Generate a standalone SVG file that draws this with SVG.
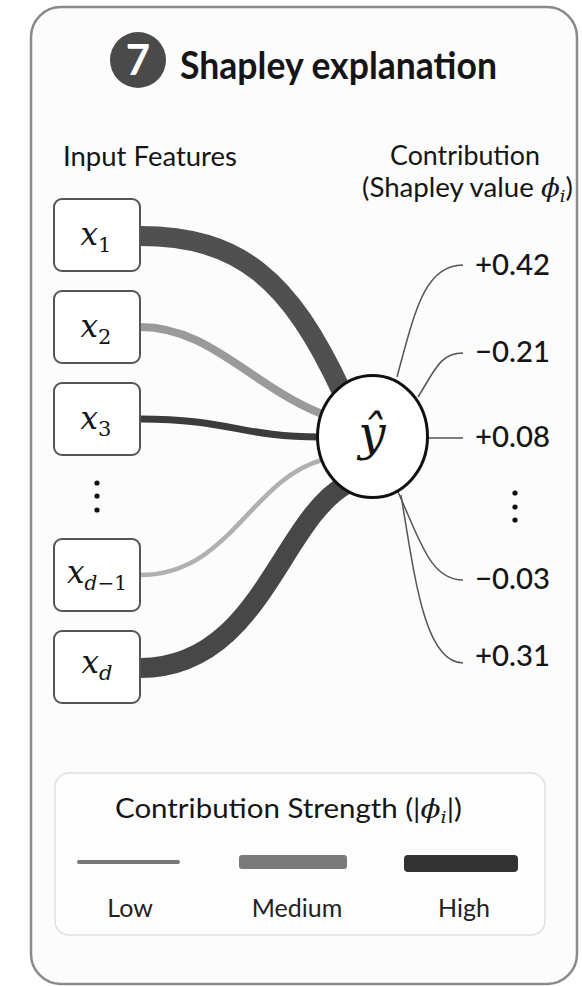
<svg xmlns="http://www.w3.org/2000/svg" width="582" height="987" viewBox="0 0 582 987">
<style>
.sans{font-family:Lato,"Noto Sans","Liberation Sans",sans-serif;fill:#151515}
.math{font-family:"DejaVu Serif","Liberation Serif",serif;font-style:italic;fill:#151515}
.box{fill:#fff;stroke:#555;stroke-width:2}
.out{fill:none;stroke:#555;stroke-width:1.5}
.in{fill:none}
.val{font-size:29px;font-weight:500}
.lbl{font-size:25px;text-anchor:middle;fill:#222}
</style>
<rect x="0" y="0" width="582" height="987" fill="#fff"/>
<rect id="card" x="31" y="7" width="546" height="977" rx="30" fill="#fcfcfc" stroke="#8a8a8a" stroke-width="2.5"/>

<g id="title">
  <circle cx="138" cy="60" r="28" fill="#4a4a4a"/>
  <text x="138" y="75" class="sans" font-size="42" font-weight="700" text-anchor="middle" style="fill:#fff">7</text>
  <text x="180" y="79" class="sans" font-size="38" font-weight="700" textLength="317" lengthAdjust="spacingAndGlyphs">Shapley explanation</text>
</g>

<g id="headers">
  <text x="63" y="166" class="sans" font-size="27" textLength="174" lengthAdjust="spacingAndGlyphs">Input Features</text>
  <text x="465" y="165" class="sans" font-size="26" text-anchor="middle" textLength="150" lengthAdjust="spacingAndGlyphs">Contribution</text>
  <text x="362" y="197" class="sans" font-size="26" textLength="211" lengthAdjust="spacingAndGlyphs">(Shapley value <tspan class="math">ϕ</tspan><tspan class="math" font-size="17" dy="5">i</tspan><tspan dy="-5">)</tspan></text>
</g>

<g id="connectors">
  <path class="in" d="M140,236 C240,236 290,280 342,392" stroke="#505050" stroke-width="20"/>
  <path class="in" d="M140,327 C210,327 250,385 322,414" stroke="#9a9a9a" stroke-width="8"/>
  <path class="in" d="M140,419 C230,419 240,437 320,437" stroke="#3c3c3c" stroke-width="7"/>
  <path class="in" d="M140,575 C230,575 250,480 322,460" stroke="#b0b0b0" stroke-width="4.5"/>
  <path class="in" d="M140,668 C260,668 280,520 347,484" stroke="#474747" stroke-width="20"/>
  <path class="out" d="M397,377 C415,310 425,265 463,265"/>
  <path class="out" d="M418,397 C435,370 440,353 463,353"/>
  <path class="out" d="M428,438 L463,438"/>
  <path class="out" d="M398,492 C420,540 430,580 463,580"/>
  <path class="out" d="M401,495 C415,580 425,663 463,663"/>
</g>

<g id="x1">
  <rect class="box" x="54" y="199" width="86" height="72" rx="8"/>
  <text x="96" y="245" class="math" font-size="31" text-anchor="middle">x<tspan font-size="21" dy="7" font-style="normal">1</tspan></text>
</g>
<g id="x2">
  <rect class="box" x="54" y="291" width="86" height="72" rx="8"/>
  <text x="96" y="337" class="math" font-size="31" text-anchor="middle">x<tspan font-size="21" dy="7" font-style="normal">2</tspan></text>
</g>
<g id="x3">
  <rect class="box" x="54" y="383" width="86" height="72" rx="8"/>
  <text x="96" y="429" class="math" font-size="31" text-anchor="middle">x<tspan font-size="21" dy="7" font-style="normal">3</tspan></text>
</g>
<g id="dots-left" fill="#111">
  <circle cx="97" cy="483" r="2.6"/>
  <circle cx="97" cy="496" r="2.6"/>
  <circle cx="97" cy="510" r="2.6"/>
</g>
<g id="xd-1">
  <rect class="box" x="54" y="539" width="86" height="72" rx="8"/>
  <text x="97" y="583" class="math" font-size="31" text-anchor="middle">x<tspan font-size="20" dy="7">d</tspan><tspan font-size="20" font-style="normal">−1</tspan></text>
</g>
<g id="xd">
  <rect class="box" x="54" y="631" width="86" height="72" rx="8"/>
  <text x="97" y="673" class="math" font-size="31" text-anchor="middle">x<tspan font-size="21" dy="7">d</tspan></text>
</g>

<g id="yhat">
  <ellipse cx="372.5" cy="436.5" rx="55" ry="61" fill="#fff" stroke="#111" stroke-width="3"/>
  <text x="372" y="450" class="math" font-size="48" text-anchor="middle">ŷ</text>
</g>

<g id="values">
  <text x="475" y="275" class="sans val" textLength="75" lengthAdjust="spacingAndGlyphs">+0.42</text>
  <text x="475" y="362" class="sans val" textLength="75" lengthAdjust="spacingAndGlyphs">−0.21</text>
  <text x="475" y="447" class="sans val" textLength="75" lengthAdjust="spacingAndGlyphs">+0.08</text>
  <g fill="#111">
    <circle cx="515" cy="493" r="2.6"/>
    <circle cx="515" cy="507" r="2.6"/>
    <circle cx="515" cy="520" r="2.6"/>
  </g>
  <text x="475" y="589" class="sans val" textLength="75" lengthAdjust="spacingAndGlyphs">−0.03</text>
  <text x="475" y="666" class="sans val" textLength="75" lengthAdjust="spacingAndGlyphs">+0.31</text>
</g>

<g id="legend">
  <rect x="55" y="773" width="490" height="162" rx="14" fill="#fdfdfd" stroke="#e0e0e0" stroke-width="1.5"/>
  <text x="115" y="818" class="sans" font-size="26" textLength="347" lengthAdjust="spacingAndGlyphs">Contribution Strength (|<tspan class="math">ϕ</tspan><tspan class="math" font-size="17" dy="5">i</tspan><tspan dy="-5">|)</tspan></text>
  <line x1="79" y1="862" x2="178" y2="862" stroke="#777" stroke-width="4" stroke-linecap="round"/>
  <rect x="239" y="855" width="108" height="14" rx="3" fill="#7a7a7a"/>
  <rect x="404" y="855" width="114" height="17" rx="4" fill="#333"/>
  <text x="130" y="917" class="sans lbl">Low</text>
  <text x="297" y="917" class="sans lbl">Medium</text>
  <text x="464" y="917" class="sans lbl">High</text>
</g>
</svg>
